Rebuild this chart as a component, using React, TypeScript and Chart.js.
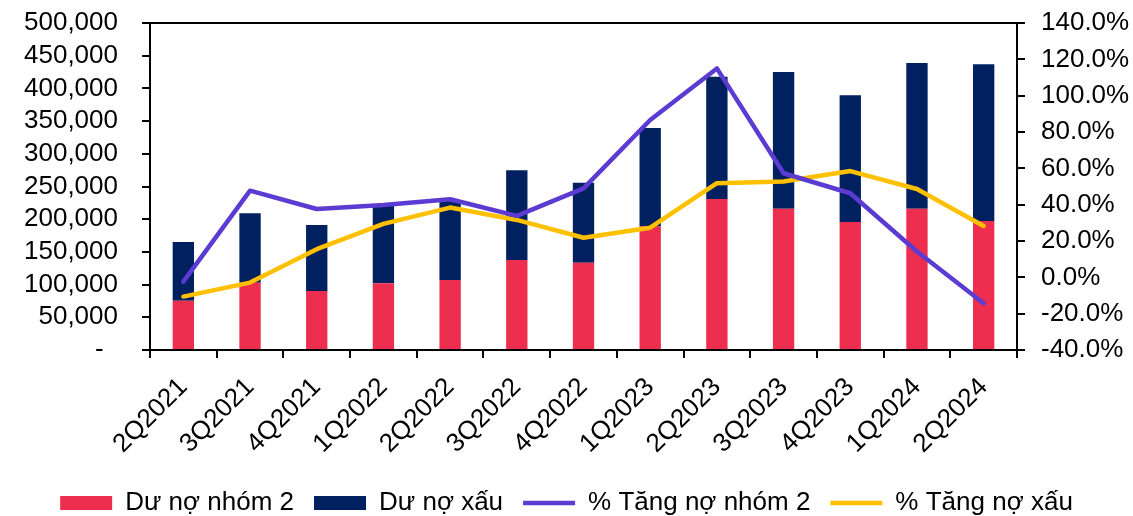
import React, { useEffect, useRef } from "react";
import { Chart, registerables } from "chart.js";

Chart.register(...registerables);

const categories = ["2Q2021", "3Q2021", "4Q2021", "1Q2022", "2Q2022", "3Q2022", "4Q2022", "1Q2023", "2Q2023", "3Q2023", "4Q2023", "1Q2024", "2Q2024"];
const group2Debt = [75400, 103000, 90200, 102000, 107000, 137600, 133500, 189000, 230900, 216000, 195700, 216000, 197200];
const badDebt = [89700, 106000, 100900, 118000, 122000, 137200, 122400, 150400, 187100, 209100, 193700, 222800, 239600];
const group2Growth = [-2.4, 47.7, 37.6, 39.8, 43.0, 33.8, 49.0, 86.6, 115.0, 57.3, 46.3, 14.2, -14.3];
const badGrowth = [-10.6, -2.9, 15.5, 29.4, 38.4, 31.6, 21.8, 27.3, 51.8, 52.7, 58.5, 48.6, 28.3];

const FONT = "'Liberation Sans', Arial, sans-serif";
const FS = 26;

const topBorder = {
  id: "topBorder",
  afterDraw(chart: any) {
    const { ctx, chartArea } = chart;
    ctx.save();
    ctx.strokeStyle = "#000";
    ctx.lineWidth = 2;
    ctx.beginPath();
    ctx.moveTo(chartArea.left, chartArea.top);
    ctx.lineTo(chartArea.right, chartArea.top);
    ctx.stroke();
    ctx.restore();
  },
};

export default function App() {
  const ref = useRef<HTMLCanvasElement | null>(null);
  useEffect(() => {
    document.body.style.margin = "0";
    const axisGrid = { display: true, drawOnChartArea: false, drawTicks: true, tickLength: 8, color: "#000", lineWidth: 2 };
    const axisBorder = { display: true, color: "#000", width: 2 };
    const chart = new Chart(ref.current as HTMLCanvasElement, {
      type: "bar",
      data: {
        labels: categories,
        datasets: [
          { type: "bar", label: "Dư nợ nhóm 2", data: group2Debt, backgroundColor: "#EE2E4E", borderWidth: 0, yAxisID: "y", order: 1, pointStyle: "rect", barPercentage: 0.32, categoryPercentage: 1 } as any,
          { type: "bar", label: "Dư nợ xấu", data: badDebt, backgroundColor: "#002060", borderWidth: 0, yAxisID: "y", order: 1, pointStyle: "rect", barPercentage: 0.32, categoryPercentage: 1 } as any,
          { type: "line", label: "% Tăng nợ nhóm 2", data: group2Growth, borderColor: "#5B3BD1", backgroundColor: "#5B3BD1", borderWidth: 4.5, pointRadius: 0, borderCapStyle: "round", borderJoinStyle: "round", yAxisID: "y1", order: 0, pointStyle: "line", tension: 0 } as any,
          { type: "line", label: "% Tăng nợ xấu", data: badGrowth, borderColor: "#FFC000", backgroundColor: "#FFC000", borderWidth: 4.5, pointRadius: 0, borderCapStyle: "round", borderJoinStyle: "round", yAxisID: "y1", order: 0, pointStyle: "line", tension: 0 } as any,
        ],
      },
      options: {
        animation: false,
        responsive: true,
        maintainAspectRatio: false,
        layout: { padding: { top: 23, left: 0, right: 0, bottom: -10 } },
        plugins: {
          tooltip: { enabled: false },
          legend: {
            position: "bottom",
            labels: {
              usePointStyle: true,
              pointStyleWidth: 52,
              boxHeight: 14,
              padding: 20,
              color: "#000",
              font: { family: FONT, size: FS },
              sort: (a: any, b: any) => a.datasetIndex - b.datasetIndex,
            },
          },
        },
        scales: {
          x: {
            stacked: true,
            grid: { ...axisGrid, offset: true },
            border: axisBorder,
            ticks: { color: "#000", font: { family: FONT, size: FS }, maxRotation: 45, minRotation: 45, autoSkip: false, padding: 14 },
            afterFit: (s: any) => { s.height = 120; s.paddingLeft = 0; s.paddingRight = 0; },
          },
          y: {
            stacked: true,
            position: "left",
            min: 0,
            max: 500000,
            grid: axisGrid,
            border: axisBorder,
            ticks: {
              stepSize: 50000,
              autoSkip: false,
              color: "#000",
              padding: 24,
              font: { family: FONT, size: FS },
              callback: (v: any) => (Number(v) === 0 ? "-  " : Number(v).toLocaleString("en-US")),
            },
            afterFit: (s: any) => { s.width = 150; s.paddingTop = 0; s.paddingBottom = 0; },
          },
          y1: {
            position: "right",
            min: -40,
            max: 140,
            grid: axisGrid,
            border: axisBorder,
            ticks: {
              stepSize: 20,
              autoSkip: false,
              color: "#000",
              padding: 16,
              font: { family: FONT, size: FS },
              callback: (v: any) => Number(v).toFixed(1) + "%",
            },
            afterFit: (s: any) => { s.width = 116; s.paddingTop = 0; s.paddingBottom = 0; },
          },
        },
      } as any,
      plugins: [topBorder],
    });
    return () => chart.destroy();
  }, []);
  return (
    <div style={{ width: 1133, height: 516, position: "relative" }}>
      <canvas ref={ref} />
    </div>
  );
}
